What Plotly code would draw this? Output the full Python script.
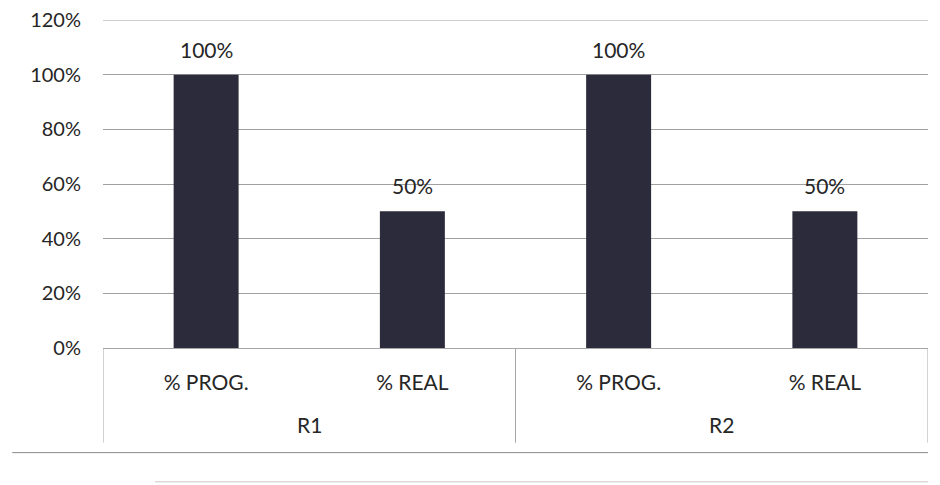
import plotly.graph_objects as go

groups = ["R1", "R1", "R2", "R2"]
categories = ["% PROG.", "% REAL", "% PROG.", "% REAL"]
values = [1.00, 0.50, 1.00, 0.50]
labels = ["100%", "50%", "100%", "50%"]
y_ticks = [0, 0.2, 0.4, 0.6, 0.8, 1.0, 1.2]
y_tick_labels = ["0%", "20%", "40%", "60%", "80%", "100%", "120%"]

FONT = "Lato, Open Sans, sans-serif"
TXT = "#262626"
LINE = "#a6a6a6"
GRID = "#a0a0a0"
FS = 21

xpos = list(range(len(categories)))

fig = go.Figure()
fig.add_trace(go.Bar(
    x=xpos,
    y=values,
    marker=dict(color="#2b2b3b", line=dict(width=0)),
    width=0.315,
))

# data labels above bars
for xi, v, t in zip(xpos, values, labels):
    fig.add_annotation(x=xi, y=v, text=t, showarrow=False,
                       yanchor="bottom", yshift=11,
                       font=dict(family=FONT, size=FS, color=TXT))

# group labels and dividers
group_names = []
for g in groups:
    if g not in group_names:
        group_names.append(g)
edges = [-0.5]
for g in group_names:
    idx = [i for i, gg in enumerate(groups) if gg == g]
    fig.add_annotation(x=sum(idx) / len(idx), y=-0.233, yref="paper",
                       text=g, showarrow=False, yanchor="middle",
                       font=dict(family=FONT, size=FS, color=TXT))
    edges.append(max(idx) + 0.5)
for e in edges:
    fig.add_shape(type="line", xref="x", yref="paper",
                  x0=e, x1=e, y0=0, y1=-0.289,
                  line=dict(color=LINE, width=1))

# top gridline (plotly drops gridlines lying on the range edge)
fig.add_shape(type="line", xref="paper", yref="y",
              x0=0, x1=1, y0=max(y_ticks), y1=max(y_ticks),
              line=dict(color=GRID, width=1), layer="below")

fig.update_layout(
    width=940, height=485,
    margin=dict(l=95, r=20, t=12, b=145),
    paper_bgcolor="white", plot_bgcolor="white",
    showlegend=False,
    font=dict(family=FONT, size=FS, color=TXT),
    xaxis=dict(
        range=[-0.5, len(categories) - 0.5],
        tickvals=xpos, ticktext=categories,
        showgrid=False, zeroline=False,
        showline=True, linecolor=LINE, linewidth=1,
        ticks="", ticklabelstandoff=16,
        automargin=False,
        tickfont=dict(family=FONT, size=FS, color=TXT),
    ),
    yaxis=dict(
        range=[0, max(y_ticks)],
        tickvals=y_ticks, ticktext=y_tick_labels,
        showgrid=True, gridcolor=GRID, gridwidth=1,
        zeroline=False, showline=False,
        ticks="", ticklabelstandoff=21,
        ticklabeloverflow="allow",
        automargin=False,
        tickfont=dict(family=FONT, size=20, color=TXT),
    ),
)

# page rule lines below the chart (as in the scanned document)
fig.add_shape(type="line", xref="paper", yref="paper",
              x0=-0.11, x1=1.0, y0=-0.319, y1=-0.319,
              line=dict(color="#8a8a8a", width=1))
fig.add_shape(type="line", xref="paper", yref="paper",
              x0=0.063, x1=1.0, y0=-0.408, y1=-0.408,
              line=dict(color="#c8c8c8", width=1))

fig.write_html("out.html")
